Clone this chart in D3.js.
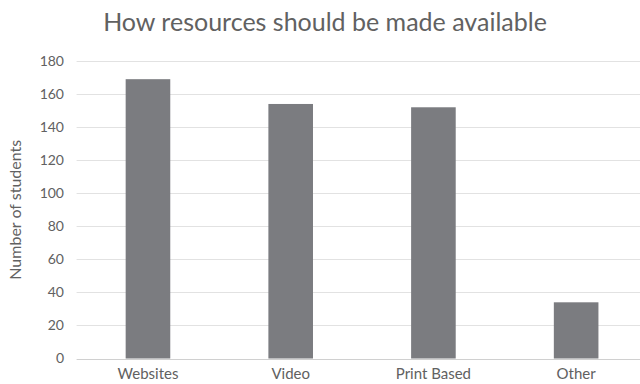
<!DOCTYPE html>
<html>
  <head>
    <meta charset="utf-8">
    <script src="https://d3js.org/d3.v7.min.js"></script>
    <style>
      body { margin: 0; background: #fff; }
      text { font-family: Lato, "Open Sans", sans-serif; fill: #616161; }
    </style>
  </head>
  <body>
    <div id="chart"></div>
    <script>
      var categories = ["Websites", "Video", "Print Based", "Other"];
      var students = [169, 154, 152, 34];
      var yTicks = [0, 20, 40, 60, 80, 100, 120, 140, 160, 180];

      var data = categories.map((c, i) => ({ name: c, value: students[i] }));

      var width = 640, height = 384;
      var plot = { left: 76.6, right: 647.5, top: 61, bottom: 358.5 };

      var svg = d3.select("#chart").append("svg")
        .attr("width", width)
        .attr("height", height);

      var x = d3.scaleBand()
        .domain(categories)
        .range([plot.left, plot.right])
        .paddingInner(0.6875)
        .paddingOuter(0.34375);

      var y = d3.scaleLinear()
        .domain([0, 180])
        .range([plot.bottom, plot.top]);

      // gridlines
      svg.append("g")
        .selectAll("line")
        .data(yTicks)
        .enter()
        .append("line")
        .attr("x1", plot.left)
        .attr("x2", plot.right)
        .attr("y1", (d) => Math.round(y(d)) + 0.5)
        .attr("y2", (d) => Math.round(y(d)) + 0.5)
        .attr("stroke", (d) => d === 0 ? "#d0d0d0" : "#e2e2e2")
        .attr("stroke-width", 1);

      // y tick labels
      svg.append("g")
        .selectAll("text")
        .data(yTicks)
        .enter()
        .append("text")
        .text((d) => d)
        .attr("x", 64)
        .attr("y", (d) => y(d))
        .attr("dy", "0.35em")
        .attr("text-anchor", "end")
        .attr("font-size", "14px");

      // bars
      svg.append("g")
        .selectAll("rect")
        .data(data)
        .enter()
        .append("rect")
        .attr("x", (d) => x(d.name))
        .attr("y", (d) => y(d.value))
        .attr("width", x.bandwidth())
        .attr("height", (d) => y(0) - y(d.value))
        .attr("fill", "#7b7c80");

      // x labels
      svg.append("g")
        .selectAll("text")
        .data(categories)
        .enter()
        .append("text")
        .text((d) => d)
        .attr("x", (d) => x(d) + x.bandwidth() / 2)
        .attr("y", 379)
        .attr("text-anchor", "middle")
        .attr("font-size", "15px");

      // axis title
      svg.append("text")
        .text("Number of students")
        .attr("transform", "translate(21," + (plot.top + plot.bottom) / 2 + ") rotate(-90)")
        .attr("text-anchor", "middle")
        .attr("font-size", "16px");

      // chart title
      svg.append("text")
        .text("How resources should be made available")
        .attr("x", 325)
        .attr("y", 31)
        .attr("text-anchor", "middle")
        .attr("font-size", "25px");
    </script>
  </body>
</html>
